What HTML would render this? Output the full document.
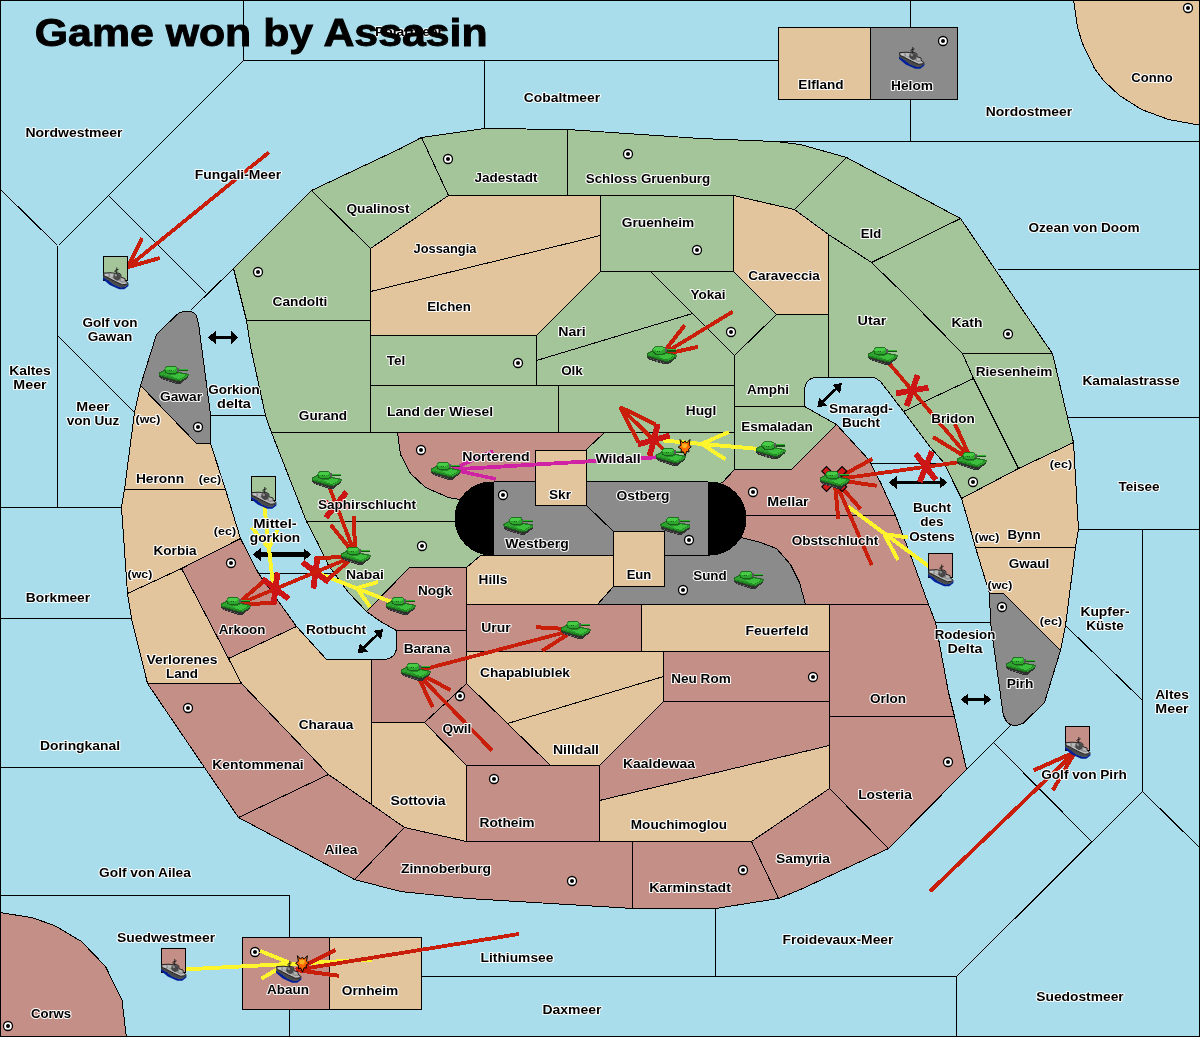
<!DOCTYPE html>
<html><head><meta charset="utf-8"><title>Game won by Assasin</title>
<style>
html,body{margin:0;padding:0;background:#A9DDEB;}
svg{display:block;will-change:transform;font-family:"Liberation Sans",sans-serif;font-weight:bold;}
.l{font-size:12.3px;fill:#000;stroke:#fff;stroke-width:2px;stroke-opacity:.95;paint-order:stroke;stroke-linejoin:round;}
.s{font-size:10.5px;fill:#000;stroke:#fff;stroke-width:2px;stroke-opacity:.95;paint-order:stroke;stroke-linejoin:round;}
</style></head><body>
<svg width="1200" height="1037" viewBox="0 0 1200 1037">
<defs>
<g id="sc"><circle r="4.5" fill="#fff" stroke="#000" stroke-width="1.3"/><circle r="2" fill="#000"/></g>

<g id="tank" shape-rendering="crispEdges">
<polygon points="0,8.5 0,10.8 2,13 16.5,17.6 21.5,17.6 29,11.8 29,9.5 21,14 17.5,14.2" fill="#303030"/>
<polygon points="0,7 5.6,4 8,7.6 16,7.6 19.3,6 21,6.5 29,8.2 29,10 21.5,14.6 17.5,14.6 0,9.4" fill="#228a22" stroke="#1c641c" stroke-width="0.8"/>
<polygon points="11,8.6 17,8.6 20,7.2 27.5,8.8 20.5,12.8 16,12.2" fill="#3cbf3c"/>
<polygon points="1,7.4 5.8,5 8.4,8.4 11,8.6 16,12.2 9,10.2 1,8.6" fill="#2fa32f"/>
<polygon points="21.5,14.6 29,10 29,8.6 21.2,13" fill="#2f9f2f"/>
<polygon points="8.1,0.3 16,0.3 18.3,1.5 19.3,5.6 16,7.6 9.7,7.6 6.4,6 5.6,2.7" fill="#2ca62c" stroke="#1c641c" stroke-width="0.8"/>
<polygon points="8.5,0.8 15.8,0.8 17.8,2 14,4.6 7,3.8 6.2,2.8" fill="#48cc48"/>
<polyline points="6.4,6 9.7,7.7 16,7.7 19.3,5.8" fill="none" stroke="#1c5e1c" stroke-width="1"/>
<rect x="18.3" y="1.8" width="1.6" height="4" fill="#5a5a5a"/>
<rect x="19.8" y="2.5" width="9.2" height="1.4" fill="#32b432"/>
<rect x="19.8" y="3.9" width="9.2" height="1.3" fill="#174f17"/>
<rect x="10.2" y="4.2" width="1" height="1" fill="#1b5f1b"/><rect x="12.4" y="4.2" width="1" height="1" fill="#1b5f1b"/>
<g fill="#6a6a6a"><rect x="3" y="11.6" width="1.2" height="1.2"/><rect x="6.2" y="12.7" width="1.2" height="1.2"/><rect x="9.4" y="13.8" width="1.2" height="1.2"/><rect x="12.6" y="14.8" width="1.2" height="1.2"/><rect x="15.8" y="15.6" width="1.2" height="1.2"/></g>
</g>
<g id="ship">
<polygon points="0,9.5 0,11.8 6.7,17.6 16.2,21.8 21.3,21.8 25.4,18.4 25.4,16.3 22,19.3 17.9,19.7 11.2,17.2 5,12.6" fill="#00209a"/>
<polygon points="0.2,7.5 0.2,9.9 5,12.8 11.2,17.4 17.9,19.9 22,19.5 25.4,16.7 25.2,15.2 24.2,16.7 19.6,17.2 12.9,14.2 5.8,10.5 0.8,8.4" fill="#4a4a4a"/>
<polygon points="0.6,5.6 8,5.2 11,5.7 16,5.7 17.9,7 17.9,9.7 22,11 22,13 25,15.7 24.2,16.7 19.6,17.2 12.9,14.25 5.8,10.5 0.8,8.4" fill="#8e8e8e" stroke="#1a1a1a" stroke-width="0.9"/>
<polygon points="1.6,6.4 5.2,6.2 5.6,9 2,8" fill="#c6c6c6"/>
<polygon points="6.2,10 12.9,13.4 19.6,16.4 23.6,16 22.6,14.8 19.4,15.2 13.4,12.6 6.6,9" fill="#c2c2c2"/>
<polygon points="6.4,6.2 9.6,6 11.2,7 10.4,9.6 7.4,9.4" fill="#b9b9b9"/>
<polygon points="10.6,7 13,6 16.4,6.4 17.3,8.2 17.3,11.6 14,13.2 11.2,11.6 10.2,9.4" fill="#484848"/>
<polygon points="11.4,6.6 13.4,6.4 14.2,8.6 12,9.2" fill="#8e8e8e"/>
<polygon points="17.8,10.6 21.3,11.6 21.5,13.8 18.2,13.6" fill="#b4b4b4"/>
<path d="M13.75,0 V6.2 M12,3 L15.6,1.8 M11.3,3.6 L13.75,4.8" stroke="#1a1a1a" stroke-width="0.9" fill="none"/>
</g>
<g id="boom">
<polygon points="-4.6,-8 -1.6,-4.6 0.4,-6.6 2,-4.4 5.4,-8 4.6,-2.6 6.6,-0.6 4,1.6 4.4,4.4 2,4 0.6,8.4 -1.4,4.2 -3.6,5 -3.2,1.8 -6.4,-0.4 -3.6,-2.4" fill="#ff6a00" stroke="#000" stroke-width="1"/>
<polygon points="-2.4,-4 0.4,-3.6 2.6,-4.2 2.8,-1.4 1.2,0.8 -1.4,0.4 -2.8,-1.6" fill="#ffb020"/>
</g>
<g id="dis">
<path d="M-13.5,-8.5 L-8.5,-13.5 L0,-5 L8.5,-13.5 L13.5,-8.5 L5,0 L13.5,8.5 L8.5,13.5 L0,5 L-8.5,13.5 L-13.5,8.5 L-5,0 Z" fill="#d21a1a" stroke="#000" stroke-width="1.2"/>
</g>
</defs>
<rect x="0" y="0" width="1200" height="1037" fill="#A9DDEB"/>
<g transform="translate(0.5,0.5)" shape-rendering="crispEdges" stroke="#000" stroke-width="1" stroke-linejoin="round">
<polygon points="233,268 311,190 370,248 370,320 246,320" fill="#A4C49A"/>
<polygon points="311,190 400,148 421,137 448,195 370,248" fill="#A4C49A"/>
<polygon points="421,137 484,128 567,129 567,195 448,195" fill="#A4C49A"/>
<polygon points="567,129 700,138 775,141 800,144 846,157 794,209 733,195 567,195" fill="#A4C49A"/>
<polygon points="370,248 448,195 600,195 600,235 370,291" fill="#E3C59D"/>
<polygon points="370,291 600,235 600,271 536,335 370,335" fill="#E3C59D"/>
<polygon points="600,195 733,195 733,271 600,271" fill="#A4C49A"/>
<polygon points="733,195 794,209 828,234 828,314 776,314 733,271" fill="#E3C59D"/>
<polygon points="794,209 846,157 960,218 871,262 828,234" fill="#A4C49A"/>
<polygon points="536,335 600,271 650,271 692,313 536,360" fill="#A4C49A"/>
<polygon points="650,271 733,271 776,314 734,355 692,313" fill="#A4C49A"/>
<polygon points="536,360 692,313 734,355 734,385 536,385" fill="#A4C49A"/>
<polygon points="370,335 536,335 536,385 370,385" fill="#A4C49A"/>
<polygon points="246,320 370,320 370,432 271,432 268,424 265,415 250,346" fill="#A4C49A"/>
<polygon points="370,385 558,385 558,432 370,432" fill="#A4C49A"/>
<polygon points="558,385 734,385 734,432 558,432" fill="#A4C49A"/>
<path d="M734,355 L776,314 L828,314 L828,377 L815,377 Q804,378 804,392 L804,406 L734,406 Z" fill="#A4C49A"/>
<polygon points="734,406 804,406 836,424 791,469 734,469" fill="#A4C49A"/>
<polygon points="828,234 871,262 906,296 962,353 973,378 903,411 880,381 874,377 828,377" fill="#A4C49A"/>
<polygon points="871,262 960,218 1047,346 1052,353 962,353 906,296" fill="#A4C49A"/>
<polygon points="962,353 1052,353 1067,417 1073,442 1018,468 973,378" fill="#A4C49A"/>
<polygon points="903,411 973,378 1018,468 961,498 953,482 944,463 930,447" fill="#A4C49A"/>
<polygon points="961,498 1018,468 1073,442 1078,529 1075,547 975,547 966,515" fill="#E3C59D"/>
<polygon points="975,547 1075,547 1065,625 1060,650 1003,593 989,593" fill="#E3C59D"/>
<path d="M989,593 L1003,593 L1060,650 L1044,702 L1023,722.5 Q1012,728 1006,721 Q1003,716 1002.5,712.5 L990,622 Z" fill="#8B8B8B"/>
<path d="M183,311 L190,311 Q195,312 196,316 L198,323 L210,414 L210,443 L196,443 L140,385 L156,334 L176,314.5 Q179,311.5 183,311 Z" fill="#8B8B8B"/>
<polygon points="140,385 196,443 210,443 225,489 124,489 134,412" fill="#E3C59D"/>
<polygon points="124,489 225,489 240,538 181,568 127,593 121,507" fill="#E3C59D"/>
<polygon points="240,538 258,573 296,626 228,658 181,568" fill="#C48F86"/>
<polygon points="127,593 181,568 228,658 241,683 147,683 131,618" fill="#E3C59D"/>
<polygon points="228,658 296,626 326,659 371,659 371,804 328,774 241,683" fill="#E3C59D"/>
<polygon points="147,683 241,683 328,774 238,817 204,767" fill="#C48F86"/>
<polygon points="238,817 328,774 371,804 404,827 354,879" fill="#C48F86"/>
<polygon points="371,722 424,722 466,765 466,841 404,827 371,804" fill="#E3C59D"/>
<polygon points="354,879 404,827 466,841 632,841 632,908 600,906 467,898 400,891" fill="#C48F86"/>
<polygon points="632,841 751,841 778,898 715,908 632,908" fill="#C48F86"/>
<polygon points="751,841 829,788 888,848 800,889 778,898" fill="#C48F86"/>
<polygon points="829,716 954,716 966,769 888,848 829,788" fill="#C48F86"/>
<polygon points="829,604 928,604 935,622 948,692 954,716 829,716" fill="#C48F86"/>
<polygon points="700,515 895,515 912,560 928,604 700,604" fill="#C48F86"/>
<polygon points="700,469 791,469 836,424 868,459 880,482 895,515 700,515" fill="#C48F86"/>
<polygon points="641,604 829,604 829,651 641,651" fill="#E3C59D"/>
<polygon points="663,651 829,651 829,701 663,701" fill="#C48F86"/>
<polygon points="663,701 829,701 829,745 599,800 599,765" fill="#C48F86"/>
<polygon points="599,800 829,745 829,788 751,841 599,841" fill="#E3C59D"/>
<polygon points="466,765 599,765 599,841 466,841" fill="#C48F86"/>
<polygon points="507,723 663,676 663,701 599,765 550,765" fill="#E3C59D"/>
<polygon points="466,651 663,651 663,676 507,723 466,683" fill="#E3C59D"/>
<polygon points="424,722 466,683 507,723 550,765 466,765" fill="#C48F86"/>
<path d="M371,659 L383,659 Q396,658 396,646 L396,630 L466,630 L466,683 L424,722 L371,722 Z" fill="#C48F86"/>
<polygon points="466,604 641,604 641,651 466,651" fill="#C48F86"/>
<polygon points="409,567 466,567 466,630 396,630 380,621 366,611" fill="#C48F86"/>
<polygon points="466,567 480,555 613,555 613,604 466,604" fill="#E3C59D"/>
<path d="M597,604 L613,586 L664,586 L664,545 L741,537 L760,542 L776,548 L790,564 L799,582 L805,604 Z" fill="#8B8B8B"/>
<polygon points="306,521 490,521 490,555 480,555 466,567 409,567 366,611 348,592 328,565 317,542" fill="#A4C49A"/>
<polygon points="271,432 397,432 480,470 480,521 306,521" fill="#A4C49A"/>
<path d="M397,432 L604,432 L586,449 L586,490 L470,502 L459,499 L448,497 L425,487 L410,473 L400,454 Z" fill="#C48F86"/>
<polygon points="604,432 734,432 734,469 722,482 700,490 586,490 586,449" fill="#A4C49A"/>
<polygon points="778,27 870,27 870,99 778,99" fill="#E3C59D"/>
<polygon points="870,27 957,27 957,99 870,99" fill="#8B8B8B"/>
<polygon points="1073,-1 1077,27 1082,43 1094,68 1103,80 1119,95 1141,109 1168,119 1201,125 1201,-1" fill="#E3C59D"/>
<polygon points="-1,912 31,917 54,925 81,941 105,966 121.5,999.5 126,1038 -1,1038" fill="#C48F86"/>
<polygon points="242,937 329,937 329,1009 242,1009" fill="#C48F86"/>
<polygon points="329,937 421,937 421,1009 329,1009" fill="#E3C59D"/>
<g fill="none">
<polyline points="243,0 243,60"/>
<polyline points="243,60 778,60"/>
<polyline points="243,60 58,245"/>
<polyline points="0,189 57,245"/>
<polyline points="57,245 57,507"/>
<polyline points="0,507 121,507"/>
<polyline points="0,618 131,618"/>
<polyline points="57,335 134,412"/>
<polyline points="108,195 206,293"/>
<polyline points="233,268 190,310"/>
<polyline points="484,60 484,128"/>
<polyline points="910,0 910,27"/>
<polyline points="910,99 910,141"/>
<polyline points="775,141 1200,141"/>
<polyline points="997,269 1200,269"/>
<polyline points="1067,417 1200,417"/>
<polyline points="1078,529 1200,529"/>
<polyline points="1142,529 1142,791"/>
<polyline points="1065,625 1142,700"/>
<polyline points="1142,791 1200,848"/>
<polyline points="1142,791 956,976"/>
<polyline points="994,743 1091,841"/>
<polyline points="1010,725 966,769"/>
<polyline points="956,976 956,1037"/>
<polyline points="421,976 956,976"/>
<polyline points="715,908 715,976"/>
<polyline points="289,895 289,937"/>
<polyline points="289,1009 289,1037"/>
<polyline points="0,895 289,895"/>
<polyline points="0,767 204,767"/>
<polyline points="210,415 265,415"/>
<polyline points="258,573 332,573"/>
<polyline points="870,463 944,463"/>
<polyline points="935,622 990,622"/>
</g>

<rect x="454" y="481" width="292" height="74" rx="37" ry="37" fill="#000" stroke="none"/>
<rect x="493" y="481" width="214" height="74" fill="#8B8B8B" stroke="none"/>
<line x1="493" y1="481" x2="707" y2="481"/><line x1="493" y1="555" x2="707" y2="555"/>
<line x1="586" y1="505" x2="613" y2="531"/>
<rect x="535" y="450" width="51" height="55" fill="#E3C59D"/>
<rect x="613" y="531" width="51" height="55" fill="#E3C59D"/>
<rect x="0" y="0" width="1199" height="1036" fill="none"/>
</g>
<g>
<use href="#sc" x="448" y="159"/><use href="#sc" x="628" y="154"/><use href="#sc" x="697" y="250"/><use href="#sc" x="731" y="332"/><use href="#sc" x="943" y="41"/><use href="#sc" x="1188" y="8"/><use href="#sc" x="1008" y="334"/><use href="#sc" x="258" y="272"/><use href="#sc" x="518" y="363"/><use href="#sc" x="421" y="450"/><use href="#sc" x="503" y="495"/><use href="#sc" x="689" y="540"/><use href="#sc" x="422" y="546"/><use href="#sc" x="683" y="590"/><use href="#sc" x="753" y="492"/><use href="#sc" x="973" y="482"/><use href="#sc" x="1002" y="607"/><use href="#sc" x="813" y="677"/><use href="#sc" x="198" y="427"/><use href="#sc" x="231" y="563"/><use href="#sc" x="188" y="708"/><use href="#sc" x="8" y="1026"/><use href="#sc" x="255" y="952"/><use href="#sc" x="460" y="696"/><use href="#sc" x="494" y="779"/><use href="#sc" x="572" y="881"/><use href="#sc" x="743" y="870"/><use href="#sc" x="948" y="762"/>
</g>
<g shape-rendering="crispEdges" stroke-linecap="butt" fill="none">
<line x1="214" y1="337.5" x2="232.5" y2="337.5" stroke="#000" stroke-width="3.4"/>
<polygon points="208,337.5 215.5,344 215.5,331" fill="#000" stroke="none"/>
<polygon points="238.5,337.5 231,344 231,331" fill="#000" stroke="none"/>
<line x1="259" y1="554.5" x2="305" y2="554.5" stroke="#000" stroke-width="4.4"/>
<polygon points="253,554.5 260.5,561 260.5,548" fill="#000" stroke="none"/>
<polygon points="311,554.5 303.5,561 303.5,548" fill="#000" stroke="none"/>
<line x1="895" y1="482.5" x2="941" y2="482.5" stroke="#000" stroke-width="3.6"/>
<polygon points="889,482.5 896.5,489 896.5,476" fill="#000" stroke="none"/>
<polygon points="947,482.5 939.5,489 939.5,476" fill="#000" stroke="none"/>
<line x1="966.8" y1="699.5" x2="985.2" y2="699.5" stroke="#000" stroke-width="3.6"/>
<polygon points="961,699.5 968.2,705.7 968.2,693.3" fill="#000" stroke="none"/>
<polygon points="991,699.5 983.8,705.7 983.8,693.3" fill="#000" stroke="none"/>
<line x1="362.5" y1="648.7" x2="378.3" y2="633.9" stroke="#000" stroke-width="2.7"/>
<polygon points="357.6,653.4 367.8,651.8 359.8,643.3" fill="#000" stroke="none"/>
<polygon points="383.2,629.2 381,639.3 373,630.8" fill="#000" stroke="none"/>
<line x1="822" y1="402.6" x2="837.2" y2="387.8" stroke="#000" stroke-width="2.7"/>
<polygon points="817.2,407.4 827.3,405.6 819.2,397.3" fill="#000" stroke="none"/>
<polygon points="842,383 840,393.1 831.9,384.8" fill="#000" stroke="none"/>
<line x1="263.5" y1="498" x2="273" y2="585" stroke="#FFF52D" stroke-width="3.9"/>
<line x1="269" y1="548" x2="251.7" y2="527.5" stroke="#FFF52D" stroke-width="3.9"/>
<line x1="269" y1="548" x2="277.5" y2="530" stroke="#FFF52D" stroke-width="3.9"/>
<line x1="400.5" y1="605.5" x2="315" y2="572" stroke="#FFF52D" stroke-width="3.9"/>
<line x1="357" y1="588" x2="378" y2="582" stroke="#FFF52D" stroke-width="3.9"/>
<line x1="357" y1="588" x2="370" y2="607" stroke="#FFF52D" stroke-width="3.9"/>
<line x1="770.5" y1="450" x2="663" y2="440.5" stroke="#FFF52D" stroke-width="3.9"/>
<line x1="701.6" y1="443.8" x2="729" y2="432" stroke="#FFF52D" stroke-width="3.9"/>
<line x1="701.6" y1="443.8" x2="725.5" y2="459.4" stroke="#FFF52D" stroke-width="3.9"/>
<line x1="940.5" y1="575" x2="848.3" y2="506.7" stroke="#FFF52D" stroke-width="3.9"/>
<line x1="884" y1="534" x2="908" y2="537.5" stroke="#FFF52D" stroke-width="3.9"/>
<line x1="884" y1="534" x2="898" y2="560" stroke="#FFF52D" stroke-width="3.9"/>
<line x1="173.5" y1="970" x2="372" y2="959.6" stroke="#FFF52D" stroke-width="3.9"/>
<line x1="289" y1="962.5" x2="260" y2="950.8" stroke="#FFF52D" stroke-width="3.9"/>
<line x1="289" y1="962.5" x2="261.3" y2="978.7" stroke="#FFF52D" stroke-width="3.9"/>
<line x1="670.5" y1="456.5" x2="452" y2="469.5" stroke="#CF22A4" stroke-width="3.8"/>
<line x1="452" y1="469.5" x2="495.8" y2="479" stroke="#CF22A4" stroke-width="3.5"/>
<line x1="452" y1="469.5" x2="493" y2="451" stroke="#CF22A4" stroke-width="3.5"/>
<line x1="268.7" y1="152.5" x2="128" y2="267" stroke="#C81E0A" stroke-width="3.8"/>
<line x1="128" y1="267" x2="142" y2="238" stroke="#C81E0A" stroke-width="4.0"/>
<line x1="128" y1="267" x2="159.7" y2="258" stroke="#C81E0A" stroke-width="4.0"/>
<line x1="732.8" y1="311.6" x2="661.5" y2="355" stroke="#C81E0A" stroke-width="3.8"/>
<line x1="661.5" y1="355" x2="684.6" y2="325.3" stroke="#C81E0A" stroke-width="4.0"/>
<line x1="661.5" y1="355" x2="698" y2="346.8" stroke="#C81E0A" stroke-width="4.0"/>
<line x1="670.5" y1="456.5" x2="620" y2="407" stroke="#C81E0A" stroke-width="3.8"/>
<line x1="620" y1="407" x2="655.4" y2="424.6" stroke="#C81E0A" stroke-width="4.0"/>
<line x1="620" y1="407" x2="638.3" y2="442" stroke="#C81E0A" stroke-width="4.0"/>
<line x1="669.6" y1="435.6" x2="637.8" y2="444.4" stroke="#CC1616" stroke-width="5.8"/>
<line x1="649.6" y1="456" x2="657.8" y2="424" stroke="#CC1616" stroke-width="5.8"/>
<line x1="882.5" y1="355.5" x2="971.5" y2="460.5" stroke="#C81E0A" stroke-width="3.8"/>
<line x1="971.5" y1="460.5" x2="933" y2="437" stroke="#C81E0A" stroke-width="4.0"/>
<line x1="971.5" y1="460.5" x2="955" y2="424" stroke="#C81E0A" stroke-width="4.0"/>
<line x1="895.9" y1="393.4" x2="928.4" y2="387.6" stroke="#CC1616" stroke-width="5.8"/>
<line x1="917.7" y1="375" x2="906.6" y2="406" stroke="#CC1616" stroke-width="5.8"/>
<line x1="971.5" y1="460.5" x2="834.5" y2="479.5" stroke="#C81E0A" stroke-width="3.8"/>
<line x1="834.5" y1="479.5" x2="872.5" y2="459" stroke="#C81E0A" stroke-width="4.0"/>
<line x1="834.5" y1="479.5" x2="876.7" y2="485.8" stroke="#C81E0A" stroke-width="4.0"/>
<line x1="932" y1="451.5" x2="919.6" y2="482.1" stroke="#CC1616" stroke-width="5.8"/>
<line x1="936" y1="479.9" x2="915.7" y2="453.8" stroke="#CC1616" stroke-width="5.8"/>
<line x1="871.7" y1="565" x2="834.5" y2="479.5" stroke="#C81E0A" stroke-width="3.8"/>
<line x1="834.5" y1="479.5" x2="860.7" y2="509.1" stroke="#C81E0A" stroke-width="4.0"/>
<line x1="834.5" y1="479.5" x2="838.3" y2="518.8" stroke="#C81E0A" stroke-width="4.0"/>
<line x1="326.5" y1="479.5" x2="355.5" y2="555.5" stroke="#C81E0A" stroke-width="3.8"/>
<line x1="355.5" y1="555.5" x2="330.7" y2="524.8" stroke="#C81E0A" stroke-width="4.0"/>
<line x1="355.5" y1="555.5" x2="353.5" y2="516.1" stroke="#C81E0A" stroke-width="4.0"/>
<line x1="319.9" y1="502.2" x2="352.5" y2="507.4" stroke="#CC1616" stroke-width="5.8"/>
<line x1="346.6" y1="492" x2="325.8" y2="517.6" stroke="#CC1616" stroke-width="5.8"/>
<line x1="355.5" y1="555.5" x2="235.5" y2="605.5" stroke="#C81E0A" stroke-width="3.8"/>
<line x1="235.5" y1="605.5" x2="265.5" y2="579.8" stroke="#C81E0A" stroke-width="4.0"/>
<line x1="235.5" y1="605.5" x2="274.9" y2="602.3" stroke="#C81E0A" stroke-width="4.0"/>
<line x1="317.6" y1="555.8" x2="313.4" y2="588.5" stroke="#CC1616" stroke-width="5.8"/>
<line x1="328.6" y1="582.2" x2="302.4" y2="562.1" stroke="#CC1616" stroke-width="5.8"/>
<line x1="235.5" y1="605.5" x2="355.5" y2="555.5" stroke="#C81E0A" stroke-width="3.8"/>
<line x1="355.5" y1="555.5" x2="325.5" y2="581.2" stroke="#C81E0A" stroke-width="4.0"/>
<line x1="355.5" y1="555.5" x2="316.1" y2="558.7" stroke="#C81E0A" stroke-width="4.0"/>
<line x1="273.4" y1="605.2" x2="277.6" y2="572.5" stroke="#CC1616" stroke-width="5.8"/>
<line x1="262.4" y1="578.8" x2="288.6" y2="598.9" stroke="#CC1616" stroke-width="5.8"/>
<line x1="415.5" y1="671.5" x2="575.5" y2="629.5" stroke="#C81E0A" stroke-width="3.8"/>
<line x1="575.5" y1="629.5" x2="542.3" y2="650.8" stroke="#C81E0A" stroke-width="4.0"/>
<line x1="575.5" y1="629.5" x2="536.1" y2="627.2" stroke="#C81E0A" stroke-width="4.0"/>
<line x1="491.8" y1="750.4" x2="415.5" y2="671.5" stroke="#C81E0A" stroke-width="3.8"/>
<line x1="415.5" y1="671.5" x2="450.4" y2="690" stroke="#C81E0A" stroke-width="4.0"/>
<line x1="415.5" y1="671.5" x2="432.8" y2="707" stroke="#C81E0A" stroke-width="4.0"/>
<line x1="519" y1="934" x2="296" y2="970" stroke="#C81E0A" stroke-width="3.8"/>
<line x1="296" y1="970" x2="335.5" y2="950" stroke="#C81E0A" stroke-width="4.0"/>
<line x1="296" y1="970" x2="339" y2="975.8" stroke="#C81E0A" stroke-width="4.0"/>
<line x1="930" y1="891.3" x2="1075" y2="752" stroke="#C81E0A" stroke-width="3.8"/>
<line x1="1075" y1="752" x2="1033.6" y2="770.4" stroke="#C81E0A" stroke-width="4.0"/>
<line x1="1075" y1="752" x2="1052.8" y2="790.2" stroke="#C81E0A" stroke-width="4.0"/>
</g>
<g>
<use href="#dis" x="834.3" y="479" transform="translate(834.3,479) scale(0.92) translate(-834.3,-479)"/>
<use href="#ship" x="899" y="47"/>
<rect x="103.5" y="256.5" width="24" height="24" fill="#A4C49A" stroke="#000" stroke-width="1" shape-rendering="crispEdges"/>
<use href="#ship" x="103" y="267.5"/>
<rect x="251.5" y="476" width="24" height="24" fill="#A4C49A" stroke="#000" stroke-width="1" shape-rendering="crispEdges"/>
<use href="#ship" x="251" y="487"/>
<rect x="928.5" y="553.5" width="24" height="24" fill="#C48F86" stroke="#000" stroke-width="1" shape-rendering="crispEdges"/>
<use href="#ship" x="928" y="564.5"/>
<rect x="161.5" y="948" width="24" height="24" fill="#C48F86" stroke="#000" stroke-width="1" shape-rendering="crispEdges"/>
<use href="#ship" x="161" y="959"/>
<use href="#ship" x="276" y="961"/>
<rect x="1065.5" y="726" width="24" height="24" fill="#C48F86" stroke="#000" stroke-width="1" shape-rendering="crispEdges"/>
<use href="#ship" x="1065" y="737"/>
<use href="#tank" x="159" y="366"/>
<use href="#tank" x="312" y="471"/>
<use href="#tank" x="341" y="547"/>
<use href="#tank" x="221" y="597"/>
<use href="#tank" x="386" y="597"/>
<use href="#tank" x="401" y="663"/>
<use href="#tank" x="561" y="621"/>
<use href="#tank" x="431" y="462"/>
<use href="#tank" x="503.5" y="517"/>
<use href="#tank" x="660.5" y="517"/>
<use href="#tank" x="656" y="448"/>
<use href="#tank" x="756" y="441.5"/>
<use href="#tank" x="647" y="346.5"/>
<use href="#tank" x="868" y="347"/>
<use href="#tank" x="957" y="452"/>
<use href="#tank" x="820" y="471"/>
<use href="#tank" x="734" y="571"/>
<use href="#tank" x="1006" y="657"/>
<use href="#boom" x="684.6" y="447.5"/><use href="#boom" x="302" y="963.7"/>
</g>
<g text-anchor="middle" opacity="0.999">
<text class="l" x="409" y="36" textLength="68.1" lengthAdjust="spacingAndGlyphs">Polarmeer</text>
<text class="l" x="74" y="137" textLength="97.1" lengthAdjust="spacingAndGlyphs">Nordwestmeer</text>
<text class="l" x="238" y="179" textLength="86.5" lengthAdjust="spacingAndGlyphs">Fungali-Meer</text>
<text class="l" x="562" y="102" textLength="76.3" lengthAdjust="spacingAndGlyphs">Cobaltmeer</text>
<text class="l" x="1029" y="116" textLength="86.4" lengthAdjust="spacingAndGlyphs">Nordostmeer</text>
<text class="l" x="1152" y="82" textLength="41.3" lengthAdjust="spacingAndGlyphs">Conno</text>
<text class="l" x="821" y="89" textLength="45.3" lengthAdjust="spacingAndGlyphs">Elfland</text>
<text class="l" x="912" y="90" textLength="42.0" lengthAdjust="spacingAndGlyphs">Helom</text>
<text class="l" x="1084" y="232" textLength="111.1" lengthAdjust="spacingAndGlyphs">Ozean von Doom</text>
<text class="l" x="1131" y="385" textLength="97.1" lengthAdjust="spacingAndGlyphs">Kamalastrasse</text>
<text class="l" x="1139" y="491" textLength="41.2" lengthAdjust="spacingAndGlyphs">Teisee</text>
<text class="l" x="110" y="327" textLength="54.8" lengthAdjust="spacingAndGlyphs">Golf von</text>
<text class="l" x="110" y="341" textLength="44.5" lengthAdjust="spacingAndGlyphs">Gawan</text>
<text class="l" x="30" y="375" textLength="41.5" lengthAdjust="spacingAndGlyphs">Kaltes</text>
<text class="l" x="30" y="389" textLength="33.3" lengthAdjust="spacingAndGlyphs">Meer</text>
<text class="l" x="93" y="411" textLength="33.3" lengthAdjust="spacingAndGlyphs">Meer</text>
<text class="l" x="93" y="425" textLength="52.7" lengthAdjust="spacingAndGlyphs">von Uuz</text>
<text class="l" x="181" y="401" textLength="42.0" lengthAdjust="spacingAndGlyphs">Gawar</text>
<text class="l" x="234" y="394" textLength="51.6" lengthAdjust="spacingAndGlyphs">Gorkion</text>
<text class="l" x="234" y="408" textLength="33.8" lengthAdjust="spacingAndGlyphs">delta</text>
<text class="l" x="160" y="483" textLength="48.2" lengthAdjust="spacingAndGlyphs">Heronn</text>
<text class="l" x="175" y="555" textLength="43.0" lengthAdjust="spacingAndGlyphs">Korbia</text>
<text class="l" x="58" y="602" textLength="64.3" lengthAdjust="spacingAndGlyphs">Borkmeer</text>
<text class="l" x="242" y="634" textLength="46.7" lengthAdjust="spacingAndGlyphs">Arkoon</text>
<text class="l" x="336" y="634" textLength="60.2" lengthAdjust="spacingAndGlyphs">Rotbucht</text>
<text class="l" x="182" y="664" textLength="71.1" lengthAdjust="spacingAndGlyphs">Verlorenes</text>
<text class="l" x="182" y="678" textLength="32.1" lengthAdjust="spacingAndGlyphs">Land</text>
<text class="l" x="275" y="528" textLength="43.6" lengthAdjust="spacingAndGlyphs">Mittel-</text>
<text class="l" x="275" y="542" textLength="50.3" lengthAdjust="spacingAndGlyphs">gorkion</text>
<text class="l" x="367" y="509" textLength="98.2" lengthAdjust="spacingAndGlyphs">Saphirschlucht</text>
<text class="l" x="365" y="579" textLength="38.0" lengthAdjust="spacingAndGlyphs">Nabai</text>
<text class="l" x="323" y="420" textLength="48.3" lengthAdjust="spacingAndGlyphs">Gurand</text>
<text class="l" x="300" y="306" textLength="54.8" lengthAdjust="spacingAndGlyphs">Candolti</text>
<text class="l" x="378" y="213" textLength="63.1" lengthAdjust="spacingAndGlyphs">Qualinost</text>
<text class="l" x="506" y="182" textLength="63.0" lengthAdjust="spacingAndGlyphs">Jadestadt</text>
<text class="l" x="648" y="183" textLength="124.6" lengthAdjust="spacingAndGlyphs">Schloss Gruenburg</text>
<text class="l" x="445" y="253" textLength="62.8" lengthAdjust="spacingAndGlyphs">Jossangia</text>
<text class="l" x="449" y="311" textLength="43.5" lengthAdjust="spacingAndGlyphs">Elchen</text>
<text class="l" x="658" y="227" textLength="72.4" lengthAdjust="spacingAndGlyphs">Gruenheim</text>
<text class="l" x="784" y="280" textLength="71.5" lengthAdjust="spacingAndGlyphs">Caraveccia</text>
<text class="l" x="871" y="238" textLength="20.4" lengthAdjust="spacingAndGlyphs">Eld</text>
<text class="l" x="708" y="299" textLength="35.1" lengthAdjust="spacingAndGlyphs">Yokai</text>
<text class="l" x="572" y="336" textLength="27.5" lengthAdjust="spacingAndGlyphs">Nari</text>
<text class="l" x="572" y="375" textLength="21.7" lengthAdjust="spacingAndGlyphs">Olk</text>
<text class="l" x="396" y="365" textLength="18.4" lengthAdjust="spacingAndGlyphs">Tel</text>
<text class="l" x="440" y="416" textLength="106.1" lengthAdjust="spacingAndGlyphs">Land der Wiesel</text>
<text class="l" x="701" y="415" textLength="30.5" lengthAdjust="spacingAndGlyphs">Hugl</text>
<text class="l" x="768" y="394" textLength="42.0" lengthAdjust="spacingAndGlyphs">Amphi</text>
<text class="l" x="777" y="431" textLength="71.6" lengthAdjust="spacingAndGlyphs">Esmaladan</text>
<text class="l" x="872" y="325" textLength="28.8" lengthAdjust="spacingAndGlyphs">Utar</text>
<text class="l" x="967" y="327" textLength="30.9" lengthAdjust="spacingAndGlyphs">Kath</text>
<text class="l" x="1014" y="376" textLength="76.7" lengthAdjust="spacingAndGlyphs">Riesenheim</text>
<text class="l" x="953" y="423" textLength="43.4" lengthAdjust="spacingAndGlyphs">Bridon</text>
<text class="l" x="861" y="413" textLength="63.8" lengthAdjust="spacingAndGlyphs">Smaragd-</text>
<text class="l" x="861" y="427" textLength="38.1" lengthAdjust="spacingAndGlyphs">Bucht</text>
<text class="l" x="932" y="512" textLength="38.1" lengthAdjust="spacingAndGlyphs">Bucht</text>
<text class="l" x="932" y="526" textLength="23.3" lengthAdjust="spacingAndGlyphs">des</text>
<text class="l" x="932" y="541" textLength="45.7" lengthAdjust="spacingAndGlyphs">Ostens</text>
<text class="l" x="1024" y="539" textLength="33.2" lengthAdjust="spacingAndGlyphs">Bynn</text>
<text class="l" x="1029" y="568" textLength="40.6" lengthAdjust="spacingAndGlyphs">Gwaul</text>
<text class="l" x="1105" y="616" textLength="49.2" lengthAdjust="spacingAndGlyphs">Kupfer-</text>
<text class="l" x="1105" y="630" textLength="37.7" lengthAdjust="spacingAndGlyphs">Küste</text>
<text class="l" x="965" y="639" textLength="60.7" lengthAdjust="spacingAndGlyphs">Rodesion</text>
<text class="l" x="965" y="653" textLength="35.1" lengthAdjust="spacingAndGlyphs">Delta</text>
<text class="l" x="1020" y="688" textLength="26.7" lengthAdjust="spacingAndGlyphs">Pirh</text>
<text class="l" x="1172" y="699" textLength="33.6" lengthAdjust="spacingAndGlyphs">Altes</text>
<text class="l" x="1172" y="713" textLength="33.3" lengthAdjust="spacingAndGlyphs">Meer</text>
<text class="l" x="788" y="506" textLength="41.3" lengthAdjust="spacingAndGlyphs">Mellar</text>
<text class="l" x="835" y="545" textLength="86.3" lengthAdjust="spacingAndGlyphs">Obstschlucht</text>
<text class="l" x="496" y="461" textLength="67.5" lengthAdjust="spacingAndGlyphs">Norterend</text>
<text class="l" x="618" y="463" textLength="45.2" lengthAdjust="spacingAndGlyphs">Wildall</text>
<text class="l" x="560" y="499" textLength="22.0" lengthAdjust="spacingAndGlyphs">Skr</text>
<text class="l" x="643" y="500" textLength="53.0" lengthAdjust="spacingAndGlyphs">Ostberg</text>
<text class="l" x="537" y="548" textLength="63.4" lengthAdjust="spacingAndGlyphs">Westberg</text>
<text class="l" x="639" y="579" textLength="24.7" lengthAdjust="spacingAndGlyphs">Eun</text>
<text class="l" x="710" y="580" textLength="33.5" lengthAdjust="spacingAndGlyphs">Sund</text>
<text class="l" x="493" y="584" textLength="28.8" lengthAdjust="spacingAndGlyphs">Hills</text>
<text class="l" x="435" y="595" textLength="34.0" lengthAdjust="spacingAndGlyphs">Nogk</text>
<text class="l" x="496" y="632" textLength="29.4" lengthAdjust="spacingAndGlyphs">Urur</text>
<text class="l" x="777" y="635" textLength="62.9" lengthAdjust="spacingAndGlyphs">Feuerfeld</text>
<text class="l" x="427" y="653" textLength="46.7" lengthAdjust="spacingAndGlyphs">Barana</text>
<text class="l" x="525" y="677" textLength="89.9" lengthAdjust="spacingAndGlyphs">Chapablublek</text>
<text class="l" x="701" y="683" textLength="59.4" lengthAdjust="spacingAndGlyphs">Neu Rom</text>
<text class="l" x="888" y="703" textLength="36.1" lengthAdjust="spacingAndGlyphs">Orlon</text>
<text class="l" x="457" y="733" textLength="28.8" lengthAdjust="spacingAndGlyphs">Qwil</text>
<text class="l" x="576" y="754" textLength="46.1" lengthAdjust="spacingAndGlyphs">Nilldall</text>
<text class="l" x="659" y="768" textLength="71.8" lengthAdjust="spacingAndGlyphs">Kaaldewaa</text>
<text class="l" x="326" y="729" textLength="54.7" lengthAdjust="spacingAndGlyphs">Charaua</text>
<text class="l" x="258" y="769" textLength="91.3" lengthAdjust="spacingAndGlyphs">Kentommenai</text>
<text class="l" x="418" y="805" textLength="55.2" lengthAdjust="spacingAndGlyphs">Sottovia</text>
<text class="l" x="507" y="827" textLength="55.1" lengthAdjust="spacingAndGlyphs">Rotheim</text>
<text class="l" x="679" y="829" textLength="96.3" lengthAdjust="spacingAndGlyphs">Mouchimoglou</text>
<text class="l" x="885" y="799" textLength="53.7" lengthAdjust="spacingAndGlyphs">Losteria</text>
<text class="l" x="341" y="854" textLength="32.9" lengthAdjust="spacingAndGlyphs">Ailea</text>
<text class="l" x="446" y="873" textLength="90.1" lengthAdjust="spacingAndGlyphs">Zinnoberburg</text>
<text class="l" x="803" y="863" textLength="53.8" lengthAdjust="spacingAndGlyphs">Samyria</text>
<text class="l" x="690" y="892" textLength="81.7" lengthAdjust="spacingAndGlyphs">Karminstadt</text>
<text class="l" x="80" y="750" textLength="80.1" lengthAdjust="spacingAndGlyphs">Doringkanal</text>
<text class="l" x="145" y="877" textLength="91.8" lengthAdjust="spacingAndGlyphs">Golf von Ailea</text>
<text class="l" x="1084" y="779" textLength="85.6" lengthAdjust="spacingAndGlyphs">Golf von Pirh</text>
<text class="l" x="838" y="944" textLength="110.9" lengthAdjust="spacingAndGlyphs">Froidevaux-Meer</text>
<text class="l" x="166" y="942" textLength="98.2" lengthAdjust="spacingAndGlyphs">Suedwestmeer</text>
<text class="l" x="517" y="962" textLength="72.8" lengthAdjust="spacingAndGlyphs">Lithiumsee</text>
<text class="l" x="572" y="1014" textLength="59.0" lengthAdjust="spacingAndGlyphs">Daxmeer</text>
<text class="l" x="1080" y="1001" textLength="87.5" lengthAdjust="spacingAndGlyphs">Suedostmeer</text>
<text class="l" x="51" y="1018" textLength="40.2" lengthAdjust="spacingAndGlyphs">Corws</text>
<text class="l" x="288" y="994" textLength="42.0" lengthAdjust="spacingAndGlyphs">Abaun</text>
<text class="l" x="370" y="995" textLength="56.5" lengthAdjust="spacingAndGlyphs">Ornheim</text>
<text class="s" x="148" y="423" textLength="24.8" lengthAdjust="spacingAndGlyphs">(wc)</text>
<text class="s" x="210" y="483" textLength="22.3" lengthAdjust="spacingAndGlyphs">(ec)</text>
<text class="s" x="225" y="535" textLength="22.3" lengthAdjust="spacingAndGlyphs">(ec)</text>
<text class="s" x="140" y="578" textLength="24.8" lengthAdjust="spacingAndGlyphs">(wc)</text>
<text class="s" x="1061" y="468" textLength="22.3" lengthAdjust="spacingAndGlyphs">(ec)</text>
<text class="s" x="987" y="541" textLength="24.8" lengthAdjust="spacingAndGlyphs">(wc)</text>
<text class="s" x="1000" y="589" textLength="24.8" lengthAdjust="spacingAndGlyphs">(wc)</text>
<text class="s" x="1051" y="625" textLength="22.3" lengthAdjust="spacingAndGlyphs">(ec)</text>
</g>
<text x="34.8" y="45.8" font-size="38.2" textLength="452.8" lengthAdjust="spacingAndGlyphs" fill="#000" stroke="#000" stroke-width="0.9">Game won by Assasin</text>
</svg>
</body></html>
